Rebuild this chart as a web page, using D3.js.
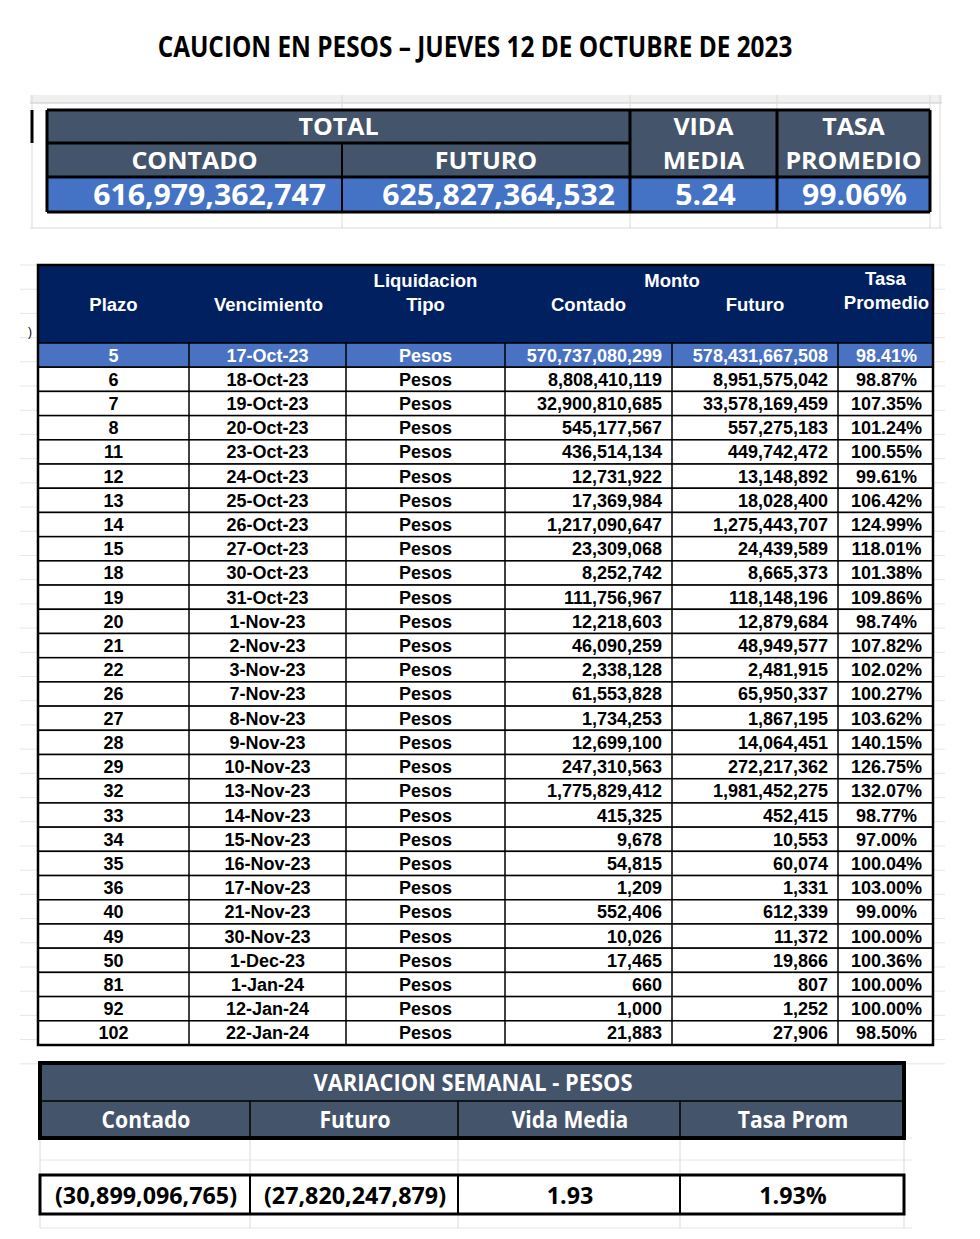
<!DOCTYPE html>
<html>
<head>
<meta charset="utf-8">
<script src="https://cdn.jsdelivr.net/npm/d3@7"></script>
<style>
  body { margin: 0; background: #fff; }
  svg { display: block; }
  .cal { font-family: "Open Sans", sans-serif; font-weight: bold; }
  .ari { font-family: "Liberation Sans", Arial, sans-serif; font-weight: bold; }
</style>
</head>
<body>
<div id="chart"></div>
<script>
// resumen total
const totalContado = 616979362747;
const totalFuturo = 625827364532;
const vidaMedia = 5.24;
const tasaPromedio = 99.06;

// detalle por plazo
const plazo = [5, 6, 7, 8, 11, 12, 13, 14, 15, 18, 19, 20, 21, 22, 26, 27, 28, 29, 32, 33, 34, 35, 36, 40, 49, 50, 81, 92, 102];
const vencimiento = ["17-Oct-23", "18-Oct-23", "19-Oct-23", "20-Oct-23", "23-Oct-23", "24-Oct-23", "25-Oct-23", "26-Oct-23", "27-Oct-23", "30-Oct-23", "31-Oct-23", "1-Nov-23", "2-Nov-23", "3-Nov-23", "7-Nov-23", "8-Nov-23", "9-Nov-23", "10-Nov-23", "13-Nov-23", "14-Nov-23", "15-Nov-23", "16-Nov-23", "17-Nov-23", "21-Nov-23", "30-Nov-23", "1-Dec-23", "1-Jan-24", "12-Jan-24", "22-Jan-24"];
const contado = [570737080299, 8808410119, 32900810685, 545177567, 436514134, 12731922, 17369984, 1217090647, 23309068, 8252742, 111756967, 12218603, 46090259, 2338128, 61553828, 1734253, 12699100, 247310563, 1775829412, 415325, 9678, 54815, 1209, 552406, 10026, 17465, 660, 1000, 21883];
const futuro = [578431667508, 8951575042, 33578169459, 557275183, 449742472, 13148892, 18028400, 1275443707, 24439589, 8665373, 118148196, 12879684, 48949577, 2481915, 65950337, 1867195, 14064451, 272217362, 1981452275, 452415, 10553, 60074, 1331, 612339, 11372, 19866, 807, 1252, 27906];
const tasa = [98.41, 98.87, 107.35, 101.24, 100.55, 99.61, 106.42, 124.99, 118.01, 101.38, 109.86, 98.74, 107.82, 102.02, 100.27, 103.62, 140.15, 126.75, 132.07, 98.77, 97.00, 100.04, 103.00, 99.00, 100.00, 100.36, 100.00, 100.00, 98.50];

// variacion semanal
const varContado = -30899096765;
const varFuturo = -27820247879;
const varVidaMedia = 1.93;
const varTasa = 1.93;

const fmtInt = d3.format(",");
const fmtPct = v => d3.format(".2f")(v) + "%";
const fmtNeg = v => v < 0 ? "(" + fmtInt(-v) + ")" : fmtInt(v);

const W = 980, H = 1239;
const slate = "#44546a", blue = "#4472c4", navy = "#002060", grid = "#d9d9d9";

// angosta el texto para parecerse a Calibri
function squeeze(sel, k) {
    sel.each(function() {
        const len = this.getComputedTextLength();
        d3.select(this).attr("textLength", len * k).attr("lengthAdjust", "spacingAndGlyphs");
    });
}

const svg = d3.select("#chart").append("svg")
    .attr("width", W)
    .attr("height", H);

svg.append("rect").attr("width", W).attr("height", H).attr("fill", "#fff");

svg.append("text")
    .attr("class", "cal")
    .attr("x", 475)
    .attr("y", 57)
    .attr("text-anchor", "middle")
    .style("font-size", "28px")
    .text("CAUCION EN PESOS \u2013 JUEVES 12 DE OCTUBRE DE 2023")
    .call(squeeze, 0.87);

// ---------- tabla total ----------
const tCols = [47, 342, 630, 777, 930];
const tRows = [110, 143, 177, 212];

const gTop = svg.append("g");

// grilla de la planilla
gTop.append("rect").attr("x", 30).attr("y", 95).attr("width", 912).attr("height", 8).attr("fill", "#f0f0f0");
gTop.append("line").attr("x1", 30).attr("x2", 942).attr("y1", 103).attr("y2", 103).attr("stroke", "#c8c8c8");
[32, 342, 630, 777, 930, 940].forEach(x => {
    gTop.append("line").attr("x1", x).attr("x2", x).attr("y1", 95).attr("y2", 228).attr("stroke", grid);
});
gTop.append("line").attr("x1", 30).attr("x2", 942).attr("y1", 228).attr("y2", 228).attr("stroke", grid);
gTop.append("line").attr("x1", 32).attr("x2", 32).attr("y1", 110).attr("y2", 143).attr("stroke", "#000").attr("stroke-width", 3);

gTop.append("rect")
    .attr("x", tCols[0]).attr("y", tRows[0])
    .attr("width", tCols[4] - tCols[0]).attr("height", tRows[2] - tRows[0])
    .attr("fill", slate);
gTop.append("rect")
    .attr("x", tCols[0]).attr("y", tRows[2])
    .attr("width", tCols[4] - tCols[0]).attr("height", tRows[3] - tRows[2])
    .attr("fill", blue);

const topLines = [
    [tCols[0], tRows[0], tCols[4], tRows[0], 3],
    [tCols[0], tRows[1], tCols[2], tRows[1], 3],
    [tCols[0], tRows[2], tCols[4], tRows[2], 3],
    [tCols[0], tRows[3], tCols[4], tRows[3], 3],
    [tCols[0], tRows[0], tCols[0], tRows[3], 3],
    [tCols[4], tRows[0], tCols[4], tRows[3], 3],
    [tCols[1], tRows[1], tCols[1], tRows[3], 2],
    [tCols[2], tRows[0], tCols[2], tRows[3], 3],
    [tCols[3], tRows[0], tCols[3], tRows[3], 3]
];
gTop.selectAll("line.b").data(topLines).enter().append("line")
    .attr("class", "b")
    .attr("x1", d => d[0]).attr("y1", d => d[1])
    .attr("x2", d => d[2]).attr("y2", d => d[3])
    .attr("stroke", "#000").attr("stroke-width", d => d[4]);

const topHeads = [
    ["TOTAL", (tCols[0] + tCols[2]) / 2, 135],
    ["CONTADO", (tCols[0] + tCols[1]) / 2, 169],
    ["FUTURO", (tCols[1] + tCols[2]) / 2, 169],
    ["VIDA", (tCols[2] + tCols[3]) / 2, 135],
    ["MEDIA", (tCols[2] + tCols[3]) / 2, 169],
    ["TASA", (tCols[3] + tCols[4]) / 2, 135],
    ["PROMEDIO", (tCols[3] + tCols[4]) / 2, 169]
];
gTop.selectAll("text.h").data(topHeads).enter().append("text")
    .attr("class", "h cal")
    .attr("x", d => d[1]).attr("y", d => d[2])
    .attr("text-anchor", "middle")
    .attr("fill", "#fff")
    .style("font-size", "24px")
    .text(d => d[0])
    .call(squeeze, 1.04);

const topVals = [
    [fmtInt(totalContado), tCols[1] - 16, "end"],
    [fmtInt(totalFuturo), tCols[2] - 15, "end"],
    [d3.format(".2f")(vidaMedia), (tCols[2] + tCols[3]) / 2 + 2, "middle"],
    [fmtPct(tasaPromedio), (tCols[3] + tCols[4]) / 2 + 1, "middle"]
];
gTop.selectAll("text.v").data(topVals).enter().append("text")
    .attr("class", "v cal")
    .attr("x", d => d[1]).attr("y", 205)
    .attr("text-anchor", d => d[2])
    .attr("fill", "#fff")
    .style("font-size", "29px")
    .text(d => d[0])
    .call(squeeze, 1.04);

// ---------- tabla detalle ----------
const cols = [38, 189, 346, 505, 672, 838, 933];
const headTop = 265, bodyTop = 343, bodyBottom = 1045;

const y = d3.scaleBand()
    .domain(d3.range(plazo.length))
    .range([bodyTop, bodyBottom])
    .padding(0);

const gMain = svg.append("g");

// grilla de fondo
d3.range(plazo.length + 5).forEach(i => {
    const yy = headTop + i * y.bandwidth();
    gMain.append("line").attr("x1", 20).attr("x2", 945).attr("y1", yy).attr("y2", yy).attr("stroke", "#e6e6e6");
});
gMain.append("text").attr("x", 28).attr("y", 336).style("font-size", "12px").style("font-family", "Liberation Sans").text(")");

gMain.append("rect")
    .attr("x", cols[0]).attr("y", headTop)
    .attr("width", cols[6] - cols[0]).attr("height", bodyTop - headTop)
    .attr("fill", navy);

const rows = gMain.selectAll("g.row")
    .data(plazo.map((p, i) => ({
        i: i,
        cells: [p, vencimiento[i], "Pesos", fmtInt(contado[i]), fmtInt(futuro[i]), fmtPct(tasa[i])]
    })))
    .enter().append("g")
    .attr("class", "row")
    .attr("transform", d => `translate(0,${y(d.i)})`);

rows.append("rect")
    .attr("x", cols[0]).attr("width", cols[6] - cols[0])
    .attr("height", y.bandwidth())
    .attr("fill", d => d.i === 0 ? "#4a72c2" : "#fff")
    .attr("stroke", "#000").attr("stroke-width", 1.5);

const anchors = ["middle", "middle", "middle", "end", "end", "middle"];
const cellX = c => anchors[c] === "end" ? cols[c + 1] - 10 : (cols[c] + cols[c + 1]) / 2 + (c === 5 ? 1 : 0);

rows.selectAll("text")
    .data(d => d.cells.map((v, c) => ({v: v, c: c, first: d.i === 0})))
    .enter().append("text")
    .attr("class", "ari")
    .attr("x", d => cellX(d.c))
    .attr("y", y.bandwidth() / 2 + 6.5)
    .attr("text-anchor", d => anchors[d.c])
    .attr("fill", d => d.first ? "#fff" : "#000")
    .style("font-size", "18px")
    .text(d => d.v);

rows.selectAll("line.sep")
    .data(cols.slice(1, 6))
    .enter().append("line")
    .attr("class", "sep")
    .attr("x1", d => d).attr("x2", d => d)
    .attr("y1", 0).attr("y2", y.bandwidth())
    .attr("stroke", "#000").attr("stroke-width", 1.5);

gMain.append("rect")
    .attr("x", cols[0]).attr("y", headTop)
    .attr("width", cols[6] - cols[0]).attr("height", bodyBottom - headTop)
    .attr("fill", "none").attr("stroke", "#000").attr("stroke-width", 2.5);

const mainHeads = [
    ["Plazo", (cols[0] + cols[1]) / 2, 311],
    ["Vencimiento", (cols[1] + cols[2]) / 2 + 1, 311],
    ["Liquidacion", (cols[2] + cols[3]) / 2, 287],
    ["Tipo", (cols[2] + cols[3]) / 2, 311],
    ["Monto", cols[4], 287],
    ["Contado", (cols[3] + cols[4]) / 2, 311],
    ["Futuro", (cols[4] + cols[5]) / 2, 311],
    ["Tasa", (cols[5] + cols[6]) / 2, 285],
    ["Promedio", (cols[5] + cols[6]) / 2 + 1, 309]
];
gMain.selectAll("text.mh").data(mainHeads).enter().append("text")
    .attr("class", "mh ari")
    .attr("x", d => d[1]).attr("y", d => d[2])
    .attr("text-anchor", "middle")
    .attr("fill", "#fff")
    .style("font-size", "18.5px")
    .text(d => d[0]);

// ---------- variacion semanal ----------
const bCols = [40, 250, 458, 680, 904];
const bRows = [1063, 1101, 1138, 1175, 1214];

const gBot = svg.append("g");

bCols.forEach(x => {
    gBot.append("line").attr("x1", x).attr("x2", x).attr("y1", 1138).attr("y2", 1228).attr("stroke", grid);
});
[1138, 1160, 1228].forEach(yy => {
    gBot.append("line").attr("x1", 40).attr("x2", 912).attr("y1", yy).attr("y2", yy).attr("stroke", "#e6e6e6");
});

gBot.append("rect")
    .attr("x", bCols[0]).attr("y", bRows[0])
    .attr("width", bCols[4] - bCols[0]).attr("height", bRows[2] - bRows[0])
    .attr("fill", slate);

gBot.append("line").attr("x1", bCols[0]).attr("x2", bCols[4]).attr("y1", bRows[1]).attr("y2", bRows[1]).attr("stroke", "#000").attr("stroke-width", 1.5);
bCols.slice(1, 4).forEach(x => {
    gBot.append("line").attr("x1", x).attr("x2", x).attr("y1", bRows[1]).attr("y2", bRows[2]).attr("stroke", "#000").attr("stroke-width", 1.5);
});
gBot.append("rect")
    .attr("x", bCols[0]).attr("y", bRows[0])
    .attr("width", bCols[4] - bCols[0]).attr("height", bRows[2] - bRows[0])
    .attr("fill", "none").attr("stroke", "#000").attr("stroke-width", 4);
gBot.append("rect")
    .attr("x", bCols[0]).attr("y", bRows[3])
    .attr("width", bCols[4] - bCols[0]).attr("height", bRows[4] - bRows[3])
    .attr("fill", "#fff").attr("stroke", "#000").attr("stroke-width", 3);
bCols.slice(1, 4).forEach(x => {
    gBot.append("line").attr("x1", x).attr("x2", x).attr("y1", bRows[3]).attr("y2", bRows[4]).attr("stroke", "#000").attr("stroke-width", 2);
});

gBot.append("text")
    .attr("class", "cal")
    .attr("x", (bCols[0] + bCols[4]) / 2 + 1).attr("y", 1091)
    .attr("text-anchor", "middle").attr("fill", "#fff")
    .style("font-size", "23px")
    .text("VARIACION SEMANAL - PESOS")
    .call(squeeze, 0.95);

const botHeads = ["Contado", "Futuro", "Vida Media", "Tasa Prom"];
gBot.selectAll("text.bh").data(botHeads).enter().append("text")
    .attr("class", "bh cal")
    .attr("x", (d, i) => (bCols[i] + bCols[i + 1]) / 2 + 1)
    .attr("y", 1128)
    .attr("text-anchor", "middle").attr("fill", "#fff")
    .style("font-size", "24px")
    .text(d => d)
    .call(squeeze, 0.88);

const botVals = [fmtNeg(varContado), fmtNeg(varFuturo), d3.format(".2f")(varVidaMedia), fmtPct(varTasa)];
gBot.selectAll("text.bv").data(botVals).enter().append("text")
    .attr("class", "bv cal")
    .attr("x", (d, i) => (bCols[i] + bCols[i + 1]) / 2 + 1)
    .attr("y", 1204)
    .attr("text-anchor", "middle").attr("fill", "#000")
    .style("font-size", "24px")
    .text(d => d)
    .call(squeeze, 0.97);
</script>
</body>
</html>
